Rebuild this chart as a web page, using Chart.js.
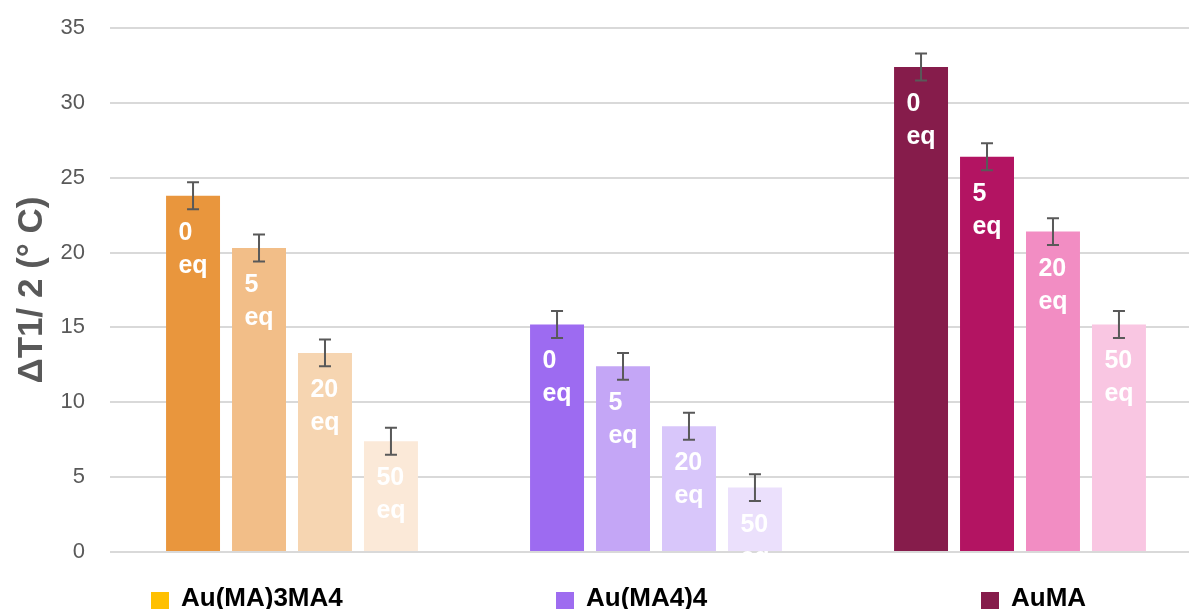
<!DOCTYPE html>
<html>
<head>
<meta charset="utf-8">
<script src="https://cdn.jsdelivr.net/npm/chart.js@4/dist/chart.umd.min.js"></script>
<style>
  html, body { margin: 0; padding: 0; background: #fff; overflow: hidden; width: 1189px; height: 609px; }
  #wrap { position: relative; width: 1202px; height: 609px; }
</style>
</head>
<body>
<div id="wrap"><canvas id="c"></canvas></div>
<script>
// ---- data ----
const categories = ['Au(MA)3MA4', 'Au(MA4)4', 'AuMA'];
const seriesLabels = ['0 eq', '5 eq', '20 eq', '50 eq'];
const eq0  = [23.8, 15.2, 32.4];
const eq5  = [20.3, 12.4, 26.4];
const eq20 = [13.3, 8.4, 21.4];
const eq50 = [7.4, 4.3, 15.2];
const err0  = [0.9, 0.9, 0.9];
const err5  = [0.9, 0.9, 0.9];
const err20 = [0.9, 0.9, 0.9];
const err50 = [0.9, 0.9, 0.9];
const yTicks = [0, 5, 10, 15, 20, 25, 30, 35];
const axisTitle = 'ΔT1/ 2 (° C)';

// ---- styles ----
const shades = [
  ['#E9963D', '#9D6BF1', '#861C4B'],
  ['#F2BE88', '#C4A6F6', '#B31462'],
  ['#F6D5B1', '#D8C6FA', '#F28DC3'],
  ['#FBE9D8', '#EBE0FC', '#F9C6E2']
];
const legendColors = ['#FFC000', '#9E6CF0', '#861C4B'];
const legendX = [151, 556, 981];

const values = [eq0, eq5, eq20, eq50];
const errors = [err0, err5, err20, err50];

const datasets = values.map((v, i) => ({
  label: seriesLabels[i],
  data: v,
  errors: errors[i],
  backgroundColor: shades[i],
  borderWidth: 0,
  categoryPercentage: 0.725,
  barPercentage: 0.818
}));

const overlay = {
  id: 'overlay',
  afterDatasetsDraw(chart) {
    const ctx = chart.ctx;
    const y = chart.scales.y;
    // error bars
    ctx.save();
    ctx.strokeStyle = '#595959';
    ctx.lineWidth = 2;
    chart.data.datasets.forEach((ds, di) => {
      const meta = chart.getDatasetMeta(di);
      meta.data.forEach((bar, i) => {
        const v = ds.data[i], e = ds.errors[i];
        const yt = y.getPixelForValue(v + e), yb = y.getPixelForValue(v - e);
        ctx.beginPath();
        ctx.moveTo(bar.x, yt); ctx.lineTo(bar.x, yb);
        ctx.moveTo(bar.x - 6, yt); ctx.lineTo(bar.x + 6, yt);
        ctx.moveTo(bar.x - 6, yb); ctx.lineTo(bar.x + 6, yb);
        ctx.stroke();
      });
    });
    ctx.restore();
    // bar labels
    ctx.save();
    ctx.font = 'bold 25px "Liberation Sans", Arial, sans-serif';
    ctx.fillStyle = '#FFFFFF';
    ctx.textAlign = 'left';
    ctx.textBaseline = 'alphabetic';
    chart.data.datasets.forEach((ds, di) => {
      const meta = chart.getDatasetMeta(di);
      const parts = ds.label.split(' ');
      const w = Math.max(...parts.map(p => ctx.measureText(p).width));
      meta.data.forEach((bar) => {
        const lx = bar.x - w / 2;
        parts.forEach((p, k) => {
          ctx.fillText(p, lx, bar.y + 44 + k * 33);
        });
      });
    });
    ctx.restore();
  },
  afterDraw(chart) {
    const ctx = chart.ctx;
    const y = chart.scales.y;
    // y title
    ctx.save();
    ctx.font = 'bold 35px "Liberation Sans", Arial, sans-serif';
    ctx.fillStyle = '#595959';
    ctx.textAlign = 'center';
    ctx.textBaseline = 'alphabetic';
    ctx.translate(42, (y.top + y.bottom) / 2);
    ctx.rotate(-Math.PI / 2);
    ctx.fillText(axisTitle, 0, 0);
    ctx.restore();
    // legend
    ctx.save();
    ctx.font = 'bold 26px "Liberation Sans", Arial, sans-serif';
    ctx.textBaseline = 'alphabetic';
    categories.forEach((c, i) => {
      ctx.fillStyle = legendColors[i];
      ctx.fillRect(legendX[i], 592, 18, 17);
      ctx.fillStyle = '#000';
      ctx.fillText(c, legendX[i] + 30, 606);
    });
    ctx.restore();
  }
};

new Chart(document.getElementById('c'), {
  type: 'bar',
  data: { labels: categories, datasets },
  options: {
    responsive: true,
    maintainAspectRatio: false,
    animation: false,
    layout: { padding: { top: 28, bottom: 57, left: 0, right: 0 } },
    plugins: { legend: { display: false }, tooltip: { enabled: false } },
    scales: {
      x: { display: false },
      y: {
        min: 0, max: 35,
        afterFit(scale) { scale.width = 110; scale.paddingTop = 13; },
        afterBuildTicks(scale) { scale.ticks = yTicks.map(v => ({ value: v })); },
        border: { display: false },
        grid: { color: '#D9D9D9', lineWidth: 2, drawTicks: false },
        ticks: {
          padding: 25,
          color: '#595959',
          font: { family: '"Liberation Sans", Arial, sans-serif', size: 22 }
        }
      }
    }
  },
  plugins: [overlay]
});
</script>
</body>
</html>
